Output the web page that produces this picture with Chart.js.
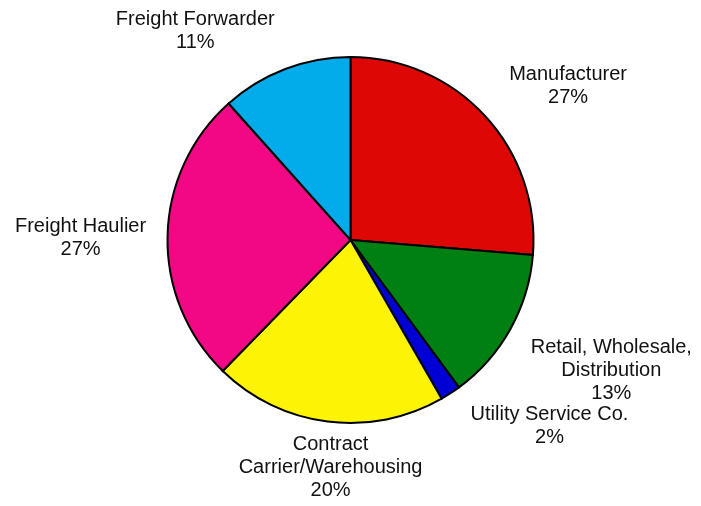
<!DOCTYPE html>
<html lang="en">
<head>
<meta charset="UTF-8">
<title>Pie</title>
<script src="https://cdn.jsdelivr.net/npm/chart.js"></script>
<style>
  body { margin: 0; background: #fff; }
  canvas { display: block; }
</style>
</head>
<body>
<canvas id="pie" width="701" height="506"></canvas>
<script>
// slice shares (clockwise from 12 o'clock)
const categories = ['Manufacturer', 'Retail, Wholesale, Distribution', 'Utility Service Co.', 'Contract Carrier/Warehousing', 'Freight Haulier', 'Freight Forwarder'];
const shares = [26.3, 13.6, 1.8, 20.6, 26.1, 11.6];
const pctText = ['27%', '13%', '2%', '20%', '27%', '11%'];
const labelLines = [
  ['Manufacturer'],
  ['Retail, Wholesale,', 'Distribution'],
  ['Utility Service Co.'],
  ['Contract', 'Carrier/Warehousing'],
  ['Freight Haulier'],
  ['Freight Forwarder']
];
const colors = ['#dd0806', '#007f12', '#0000d4', '#fcf305', '#f20884', '#02abea'];
// nudge of each label block from the slice's outer midpoint
const labelShift = [[83, -36], [101, 24], [99, 27], [3, 28], [-87, -4], [-90, -44]];

const outsideLabels = {
  id: 'outsideLabels',
  afterDraw(chart) {
    const ctx = chart.ctx;
    const arcs = chart.getDatasetMeta(0).data;
    ctx.save();
    ctx.font = '20px "Liberation Sans", Arial, sans-serif';
    ctx.fillStyle = '#111';
    ctx.textAlign = 'center';
    ctx.textBaseline = 'alphabetic';
    arcs.forEach((arc, i) => {
      const p = arc.getProps(['x', 'y', 'startAngle', 'endAngle', 'outerRadius']);
      const mid = (p.startAngle + p.endAngle) / 2;
      const x = p.x + Math.cos(mid) * p.outerRadius + labelShift[i][0];
      const y = p.y + Math.sin(mid) * p.outerRadius + labelShift[i][1];
      const lines = labelLines[i].concat([pctText[i]]);
      lines.forEach((t, k) => ctx.fillText(t, x, y + k * 23));
    });
    ctx.restore();
  }
};

new Chart(document.getElementById('pie'), {
  type: 'pie',
  data: {
    labels: categories,
    datasets: [{
      data: shares,
      backgroundColor: colors,
      borderColor: '#000',
      borderWidth: 2,
      borderJoinStyle: 'miter',
      radius: 183
    }]
  },
  options: {
    responsive: false,
    animation: false,
    layout: { padding: { top: 0, bottom: 26, left: 0, right: 0 } },
    plugins: {
      legend: { display: false },
      tooltip: { enabled: false }
    }
  },
  plugins: [outsideLabels]
});
</script>
</body>
</html>
